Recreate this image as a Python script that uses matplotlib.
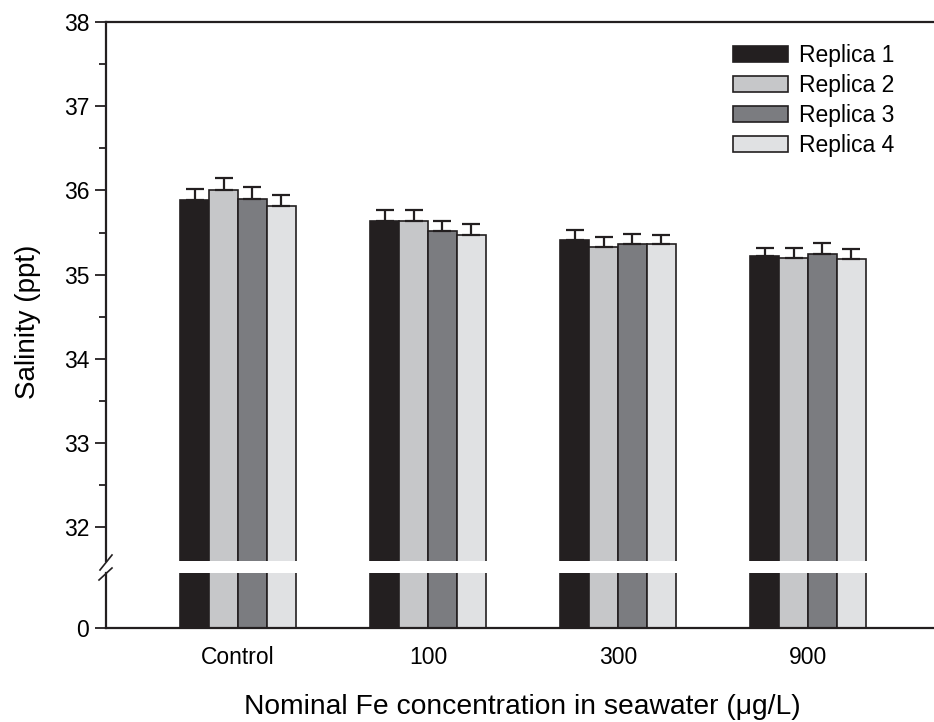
import matplotlib
matplotlib.use("Agg")
import matplotlib.pyplot as plt
import numpy as np
from matplotlib.lines import Line2D

plt.rcParams['font.family'] = ['Liberation Sans', 'DejaVu Sans']

categories = ["Control", "100", "300", "900"]
series_names = ["Replica 1", "Replica 2", "Replica 3", "Replica 4"]
replica1 = [35.89, 35.64, 35.41, 35.22]
replica2 = [36.00, 35.64, 35.33, 35.20]
replica3 = [35.90, 35.52, 35.36, 35.25]
replica4 = [35.82, 35.47, 35.36, 35.18]
err1 = [0.13, 0.13, 0.12, 0.10]
err2 = [0.15, 0.13, 0.12, 0.12]
err3 = [0.14, 0.12, 0.12, 0.13]
err4 = [0.13, 0.13, 0.11, 0.12]
yticks_upper = [32, 33, 34, 35, 36, 37, 38]

values = [replica1, replica2, replica3, replica4]
errors = [err1, err2, err3, err4]
colors = ["#231f20", "#c6c7c9", "#7b7c80", "#e0e1e3"]
edge = "#231f20"

W, H = 934, 722
fig = plt.figure(figsize=(W / 100, H / 100), dpi=100)

left = 106 / W
right = 1.0
ax_up = fig.add_axes([left, 1 - 561 / H, right - left, (561 - 22) / H])
ax_lo = fig.add_axes([left, 1 - 628 / H, right - left, (628 - 573) / H])

x = np.arange(len(categories))
bw = 0.152
offsets = (np.arange(4) - 1.5) * bw

for ax in (ax_up, ax_lo):
    for i in range(4):
        ax.bar(x + offsets[i], values[i], width=bw, color=colors[i],
               edgecolor=edge, linewidth=1.2, label=series_names[i], zorder=2)
    ax.set_xlim(-0.695, 3.663)
    ax.spines['right'].set_visible(False)
    for s in ax.spines.values():
        s.set_linewidth(1.6)
        s.set_color(edge)
    ax.tick_params(axis='x', length=0)
    ax.tick_params(axis='y', which='major', direction='out', length=8, width=1.3,
                   labelsize=16.5, color=edge, pad=4)
    ax.tick_params(axis='y', which='minor', direction='out', length=5, width=1.3, color=edge)

for i in range(4):
    ax_up.errorbar(x + offsets[i], values[i], yerr=[np.zeros(4), errors[i]],
                   fmt='none', ecolor=edge, elinewidth=1.6, capsize=6.5,
                   capthick=1.6, zorder=3)

ax_up.set_ylim(31.6, 38)
ax_up.set_yticks(yticks_upper)
ax_up.set_yticks(np.arange(32.5, 38, 1.0), minor=True)
ax_up.spines['bottom'].set_visible(False)
ax_up.set_xticks([])

ax_lo.set_ylim(0, 1)
ax_lo.set_yticks([0])
ax_lo.spines['top'].set_visible(False)
ax_lo.set_xticks(x)
ax_lo.set_xticklabels(categories, fontsize=16.5)
ax_lo.tick_params(axis='x', pad=13)

# break marks
for (x0, y0, x1, y1) in [(100, 570, 112, 555), (99, 580, 112, 568)]:
    fig.add_artist(Line2D([x0 / W, x1 / W], [1 - y0 / H, 1 - y1 / H],
                          color=edge, linewidth=1.2))

fig.text(28 / W, 1 - 322 / H, "Salinity (ppt)", rotation=90, ha='center',
         va='center', fontsize=20)
fig.text(522 / W, 1 - 707 / H, "Nominal Fe concentration in seawater (\u03bcg/L)",
         ha='center', va='center', fontsize=20.3)

leg = ax_up.legend(loc='upper left', bbox_to_anchor=(733 / W, 1 - 44 / H),
                   bbox_transform=fig.transFigure, frameon=False, fontsize=16.5,
                   handlelength=2.4, handleheight=0.7, handletextpad=0.5,
                   labelspacing=0.3, borderpad=0, borderaxespad=0)

fig.savefig("out.png", dpi=100)
